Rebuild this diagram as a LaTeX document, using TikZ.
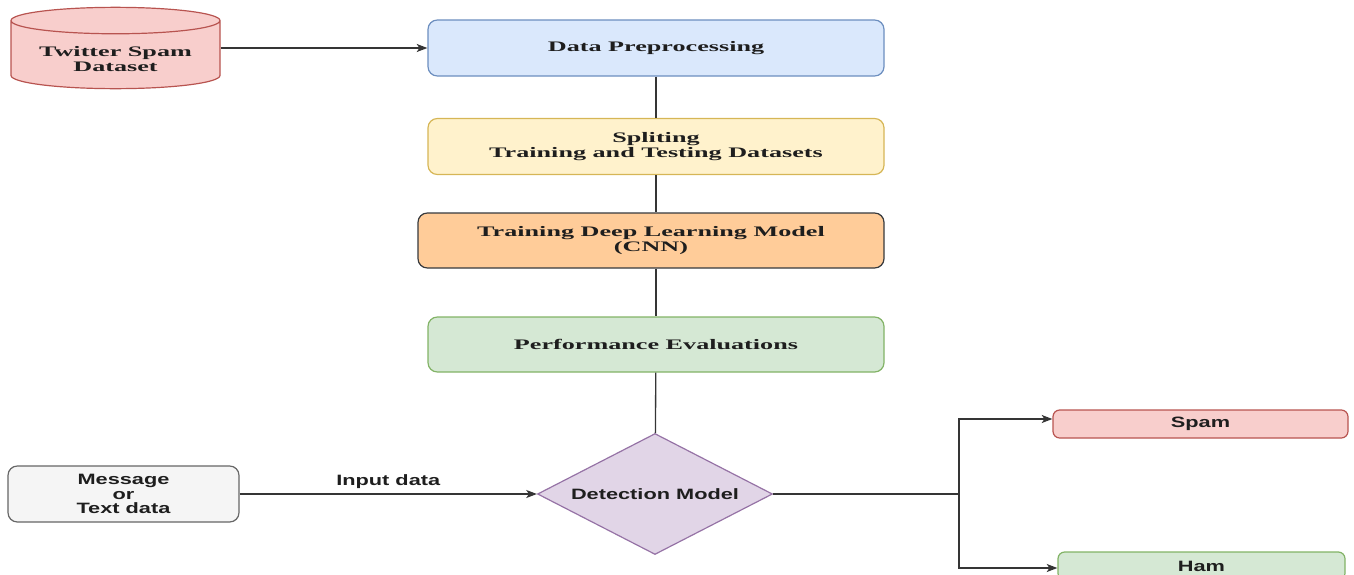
\documentclass[tikz,border=0pt]{standalone}
\usepackage{fontspec}
\setmainfont{Liberation Serif}[FakeStretch=1.8]
\newfontfamily\sansbox{Liberation Sans}[FakeStretch=1.45]
\usepackage{tikz}
\usetikzlibrary{shapes.geometric,arrows.meta}

\definecolor{redfill}{HTML}{F8CECC}\definecolor{redline}{HTML}{B85450}
\definecolor{bluefill}{HTML}{DAE8FC}\definecolor{blueline}{HTML}{6C8EBF}
\definecolor{yellowfill}{HTML}{FFF2CC}\definecolor{yellowline}{HTML}{D6B656}
\definecolor{orangefill}{HTML}{FFCC99}\definecolor{orangeline}{HTML}{36393D}
\definecolor{greenfill}{HTML}{D5E8D4}\definecolor{greenline}{HTML}{82B366}
\definecolor{purplefill}{HTML}{E1D5E7}\definecolor{purpleline}{HTML}{9673A6}
\definecolor{greyfill}{HTML}{F5F5F5}\definecolor{greyline}{HTML}{666666}
\definecolor{inkdark}{HTML}{1E1E1E}

\tikzset{
  stage/.style={draw, rectangle, rounded corners=7pt, line width=0.9pt, align=center, text=inkdark,
    minimum width=342pt, minimum height=42pt,
    font=\bfseries\fontsize{10.9pt}{11.25pt}\selectfont},
  dbase/.style={draw=redline, fill=redfill, line width=0.9pt, cylinder, shape border rotate=90, aspect=0.17,
    minimum width=156.75pt, minimum height=61pt, inner sep=1pt, text=inkdark,
    font=\bfseries\fontsize{10.9pt}{11.25pt}\selectfont},
  sbox/.style={draw, rectangle, rounded corners=7pt, line width=0.9pt, align=center, text=inkdark,
    font=\sansbox\bfseries\fontsize{11.25pt}{10.9pt}\selectfont},
  link/.style={draw=inkdark!90, line width=1pt},
  flow/.style={link, -{Stealth[length=8pt,width=6pt,inset=2pt]}}
}

\begin{document}
\begin{tikzpicture}[x=0.75pt, y=-0.75pt]
  \clip (0,0) rectangle (1354,575);

  % training pipeline
  \node[dbase, anchor=shape center] (data) at (115.5,48)
    {\begin{tabular}{@{}c@{}}\rule{0pt}{15pt}Twitter Spam\\Dataset\end{tabular}};
  \node[stage, draw=blueline, fill=bluefill] (prep) at (656,48) {Data Preprocessing};
  \node[stage, draw=yellowline, fill=yellowfill] (split) at (656,146.5) {Spliting\\Training and Testing Datasets};
  \node[stage, draw=orangeline, fill=orangefill, minimum width=349.5pt, minimum height=41.25pt] (train) at (651,240.5) {Training Deep Learning Model\\(CNN)};
  \node[stage, draw=greenline, fill=greenfill, minimum height=41.25pt] (eval) at (656,344.5) {Performance Evaluations};

  % detection
  \node[sbox, draw=greyline, fill=greyfill, minimum width=173.25pt, minimum height=42pt] (msg) at (123.5,494) {Message\\or\\Text data};
  \node[sbox, diamond, aspect=1.94, rounded corners=0pt, draw=purpleline, fill=purplefill, minimum width=176.25pt, minimum height=90.75pt, inner sep=0pt] (detect) at (655,494) {Detection Model};
  \node[sbox, draw=redline, fill=redfill, rounded corners=5pt, minimum width=221.25pt, minimum height=21pt] (spam) at (1200.5,424) {Spam};
  \node[sbox, draw=greenline, fill=greenfill, rounded corners=5pt, minimum width=215.25pt, minimum height=21pt] (ham) at (1201.5,566) {Ham};
  \coordinate (fork) at (959,494);

  \draw[flow] (data.east |- prep) -- (prep);
  \draw[link] (prep) -- (split);
  \draw[link] (split) -- (split |- train.north);
  \draw[link] (train.south -| split) -- (split |- eval.north);
  \draw[link] (eval) -- (detect);
  \draw[flow] (msg) -- node[above, font=\sansbox\bfseries\fontsize{11.25pt}{11pt}\selectfont, text=inkdark] {Input data} (detect);
  \draw[link] (detect) -- (fork);
  \draw[flow] (fork) |- ([yshift=3.75pt]spam.west);
  \draw[flow] (fork) |- ([yshift=-1.5pt]ham.west);
\end{tikzpicture}
\end{document}
